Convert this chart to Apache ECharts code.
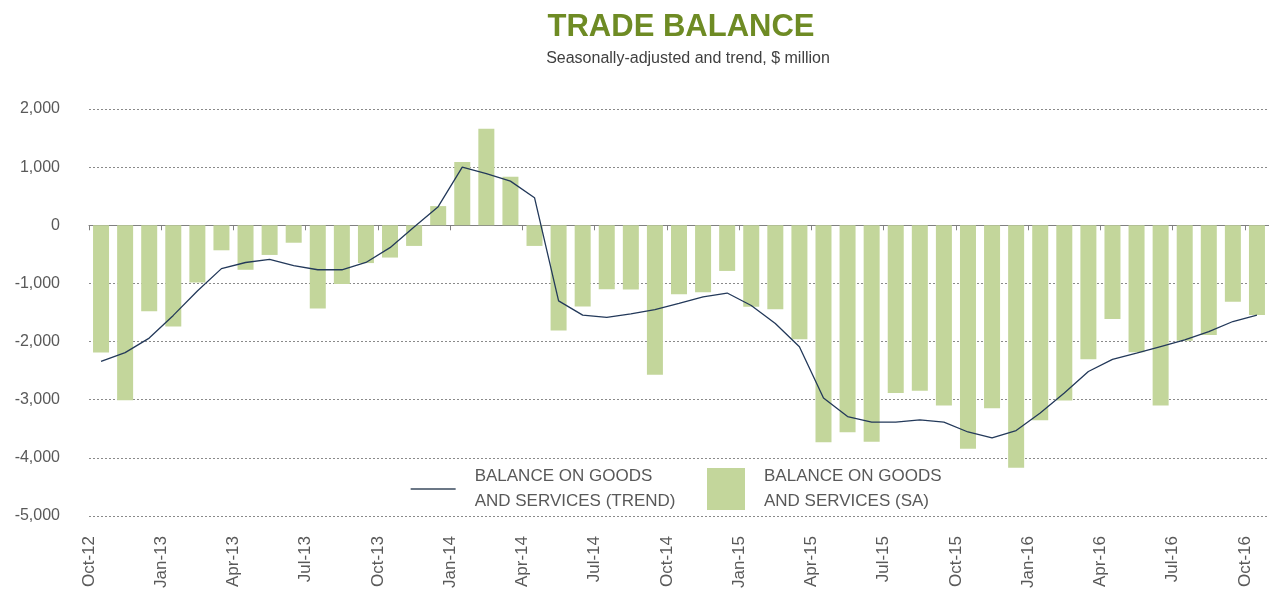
<!DOCTYPE html>
<html>
<head>
<meta charset="utf-8">
<script src="https://cdn.jsdelivr.net/npm/echarts@6/dist/echarts.min.js"></script>
<style>
html,body{margin:0;padding:0;background:#fff;}
#chart{width:1269px;height:596px;}
</style>
</head>
<body>
<div id="chart"></div>
<script>
var months = ['Oct-12','Nov-12','Dec-12','Jan-13','Feb-13','Mar-13','Apr-13','May-13','Jun-13','Jul-13','Aug-13','Sep-13',
  'Oct-13','Nov-13','Dec-13','Jan-14','Feb-14','Mar-14','Apr-14','May-14','Jun-14','Jul-14','Aug-14','Sep-14',
  'Oct-14','Nov-14','Dec-14','Jan-15','Feb-15','Mar-15','Apr-15','May-15','Jun-15','Jul-15','Aug-15','Sep-15',
  'Oct-15','Nov-15','Dec-15','Jan-16','Feb-16','Mar-16','Apr-16','May-16','Jun-16','Jul-16','Aug-16','Sep-16','Oct-16'];

var saValues = [-2190,-3010,-1480,-1740,-985,-430,-765,-510,-300,-1430,-1010,-650,
  -555,-355,330,1090,1660,835,-355,-1810,-1395,-1100,-1105,-2570,
  -1185,-1150,-785,-1400,-1445,-1960,-3730,-3560,-3725,-2885,-2845,-3100,
  -3845,-3145,-4170,-3355,-3015,-2305,-1610,-2185,-3100,-1985,-1885,-1315,-1545];

var trendValues = [-2340,-2190,-1940,-1550,-1130,-745,-640,-585,-695,-765,-765,-640,
  -385,-30,320,1000,890,760,475,-1300,-1545,-1585,-1525,-1450,
  -1345,-1230,-1165,-1380,-1690,-2090,-2970,-3290,-3385,-3385,-3345,-3385,
  -3555,-3655,-3530,-3230,-2885,-2515,-2305,-2200,-2085,-1970,-1830,-1655,-1545];

var tickLabels = months.concat(['']);

var trendName = 'BALANCE ON GOODS\nAND SERVICES (TREND)';
var saName = 'BALANCE ON GOODS\nAND SERVICES (SA)';

var FONT = 'Liberation Sans, Arial, sans-serif';
var GREY = '#595959';

var chart = echarts.init(document.getElementById('chart'), null, {renderer:'canvas'});
chart.setOption({
  animation: false,
  backgroundColor: '#ffffff',
  title: [
    {text: 'TRADE BALANCE', left: 676, top: 7, textAlign: 'center',
     textStyle: {fontFamily: FONT, fontSize: 31, fontWeight: 'bold', color: '#6E8B24'}},
    {text: 'Seasonally-adjusted and trend, $ million', left: 683, top: 46, textAlign: 'center',
     textStyle: {fontFamily: FONT, fontSize: 16, fontWeight: 'normal', color: '#404040'}}
  ],
  legend: [
    {data: [{name: trendName, itemStyle: {opacity: 0}}], left: 410, top: 464, orient: 'vertical',
     padding: 0, itemWidth: 45, itemHeight: 14,
     lineStyle: {color: '#3a4a5e', width: 1.3},
     textStyle: {fontFamily: FONT, fontSize: 17, lineHeight: 25, color: GREY, padding: [0,0,0,14]}},
    {data: [{name: saName, icon: 'rect'}], left: 707, top: 464, orient: 'vertical',
     padding: 0, itemWidth: 38, itemHeight: 42,
     textStyle: {fontFamily: FONT, fontSize: 17, lineHeight: 25, color: GREY, padding: [0,0,0,14]}}
  ],
  grid: {left: 89, top: 109, width: 1186, height: 407, containLabel: false},
  xAxis: [
    {type: 'category', data: months, boundaryGap: true, position: 'bottom',
     axisLine: {onZero: true, lineStyle: {color: '#808080', width: 1}},
     axisTick: {show: true, interval: 2, length: 5, lineStyle: {color: '#808080'}},
     axisLabel: {show: false}, splitLine: {show: false}},
    {type: 'category', data: tickLabels, boundaryGap: false, position: 'bottom',
     axisLine: {show: false, onZero: false}, axisTick: {show: false}, splitLine: {show: false},
     axisLabel: {show: true, interval: 2, rotate: 90, margin: 20,
       fontFamily: FONT, fontSize: 17, color: GREY}}
  ],
  yAxis: {type: 'value', min: -5000, max: 2000, interval: 1000,
    axisLine: {show: false}, axisTick: {show: false},
    axisLabel: {margin: 29, fontFamily: FONT, fontSize: 16, color: GREY,
      formatter: function (v) { return v.toLocaleString('en-US'); }},
    splitLine: {show: true, lineStyle: {color: '#8a8a8a', width: 1, type: [2, 2]}}
  },
  series: [
    {name: saName, type: 'bar', xAxisIndex: 0, data: saValues, barWidth: 16,
     itemStyle: {color: '#C3D69B'}, z: 2},
    {name: trendName, type: 'line', xAxisIndex: 0, data: trendValues, symbol: 'none',
     lineStyle: {color: '#23395A', width: 1.3}, itemStyle: {color: '#23395A'}, z: 3}
  ]
});
</script>
</body>
</html>
